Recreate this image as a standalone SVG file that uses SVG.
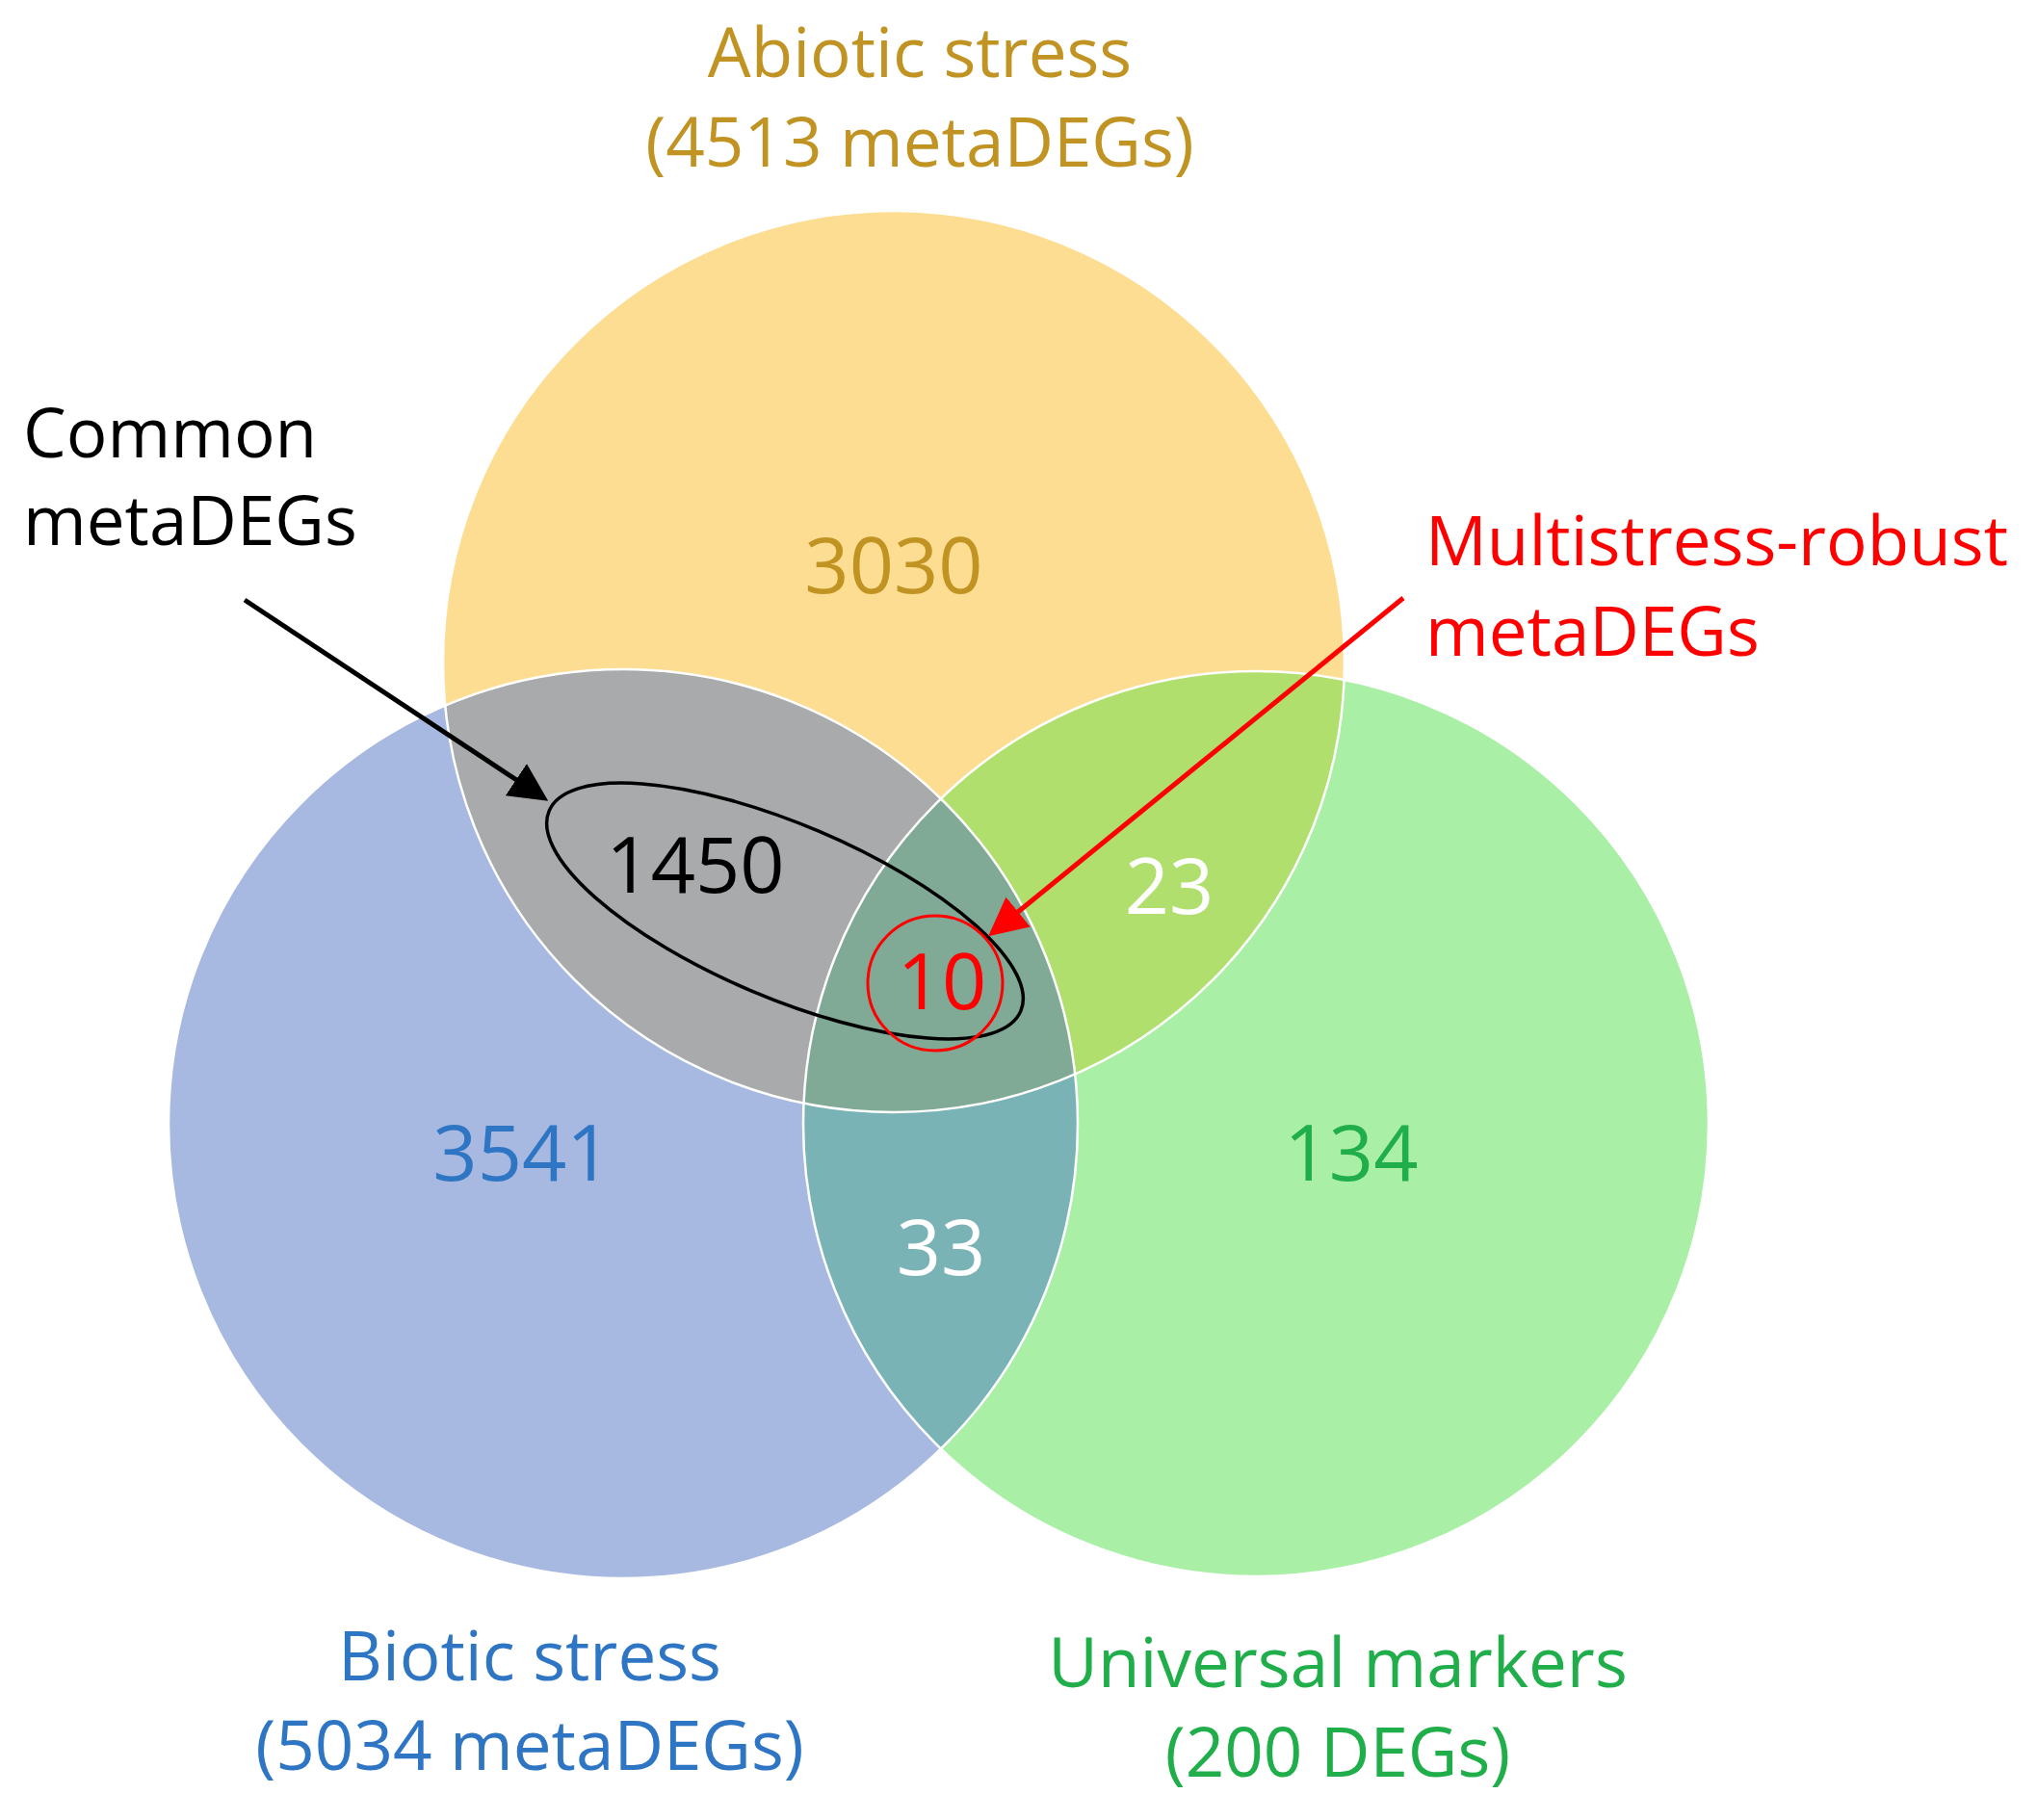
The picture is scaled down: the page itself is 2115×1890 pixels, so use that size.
<svg xmlns="http://www.w3.org/2000/svg" width="2115" height="1890" viewBox="0 0 2115 1890">
<style>
text{font-family:"Open Sans","Liberation Sans",sans-serif;text-anchor:middle}
.t{font-size:71px}
.n{font-size:81px}
.w{fill:#fff}
</style>
<defs>
<clipPath id="cA"><circle cx="928" cy="687" r="468"/></clipPath>
<clipPath id="cB"><circle cx="647" cy="1167" r="472"/></clipPath>
<clipPath id="cU"><circle cx="1304" cy="1167" r="470"/></clipPath>
<marker id="ak" markerWidth="8" markerHeight="8" refX="7" refY="4" orient="auto" markerUnits="strokeWidth"><path d="M0,0L8,4L0,8z" fill="#000"/></marker>
<marker id="ar" markerWidth="8" markerHeight="8" refX="7" refY="4" orient="auto" markerUnits="strokeWidth"><path d="M0,0L8,4L0,8z" fill="#f00"/></marker>
</defs>
<rect width="2115" height="1890" fill="#fff"/>
<g id="abiotic"><circle cx="928" cy="687" r="468" fill="#fcdd92"/></g>
<g id="biotic"><circle cx="647" cy="1167" r="472" fill="#a7b9e0"/></g>
<g id="universal"><circle cx="1304" cy="1167" r="470" fill="#a9efa6"/></g>
<g id="overlaps">
<g clip-path="url(#cA)"><circle cx="647" cy="1167" r="472" fill="#a8aaab"/><circle cx="1304" cy="1167" r="470" fill="#b0df6e"/></g>
<g clip-path="url(#cB)"><circle cx="1304" cy="1167" r="470" fill="#7ab3b5"/></g>
<g clip-path="url(#cA)"><g clip-path="url(#cB)"><circle cx="1304" cy="1167" r="470" fill="#80a996"/></g></g>
<g fill="none" stroke="#fff" stroke-width="2.5"><circle cx="928" cy="687" r="468"/><circle cx="647" cy="1167" r="472"/><circle cx="1304" cy="1167" r="470"/></g>
</g>
<g id="highlights">
<ellipse cx="815" cy="946" rx="266" ry="90" transform="rotate(23 815 946)" fill="none" stroke="#000" stroke-width="3.5"/>
<circle cx="971" cy="1021" r="70" fill="none" stroke="#f00" stroke-width="3"/>
</g>
<g id="connectors">
<line x1="254" y1="623" x2="565" y2="829" stroke="#000" stroke-width="5" marker-end="url(#ak)"/>
<line x1="1457" y1="621" x2="1030" y2="969" stroke="#f00" stroke-width="5" marker-end="url(#ar)"/>
</g>
<g id="labels">
<text class="t" x="955" y="80" fill="#c09322">Abiotic stress</text>
<text class="t" x="955" y="173" fill="#c09322">(4513 metaDEGs)</text>
<text class="t" x="550" y="1745" fill="#2e75c4">Biotic stress</text>
<text class="t" x="550" y="1838" fill="#2e75c4">(5034 metaDEGs)</text>
<text class="t" x="1389" y="1752" fill="#1fae4a">Universal markers</text>
<text class="t" x="1389" y="1845" fill="#1fae4a">(200 DEGs)</text>
<text class="t" x="24" y="475" style="text-anchor:start">Common</text>
<text class="t" x="24" y="566" style="text-anchor:start">metaDEGs</text>
<text class="t" x="1480" y="587" fill="#f00" style="text-anchor:start">Multistress-robust</text>
<text class="t" x="1480" y="681" fill="#f00" style="text-anchor:start">metaDEGs</text>
<text class="n" x="928" y="616" fill="#c09322">3030</text>
<text class="n" x="722" y="927">1450</text>
<text class="n" x="978" y="1048" fill="#f00">10</text>
<text class="n w" x="1214" y="949">23</text>
<text class="n" x="542" y="1226" fill="#2e75c4">3541</text>
<text class="n" x="1403" y="1226" fill="#1fae4a">134</text>
<text class="n w" x="977" y="1324">33</text>
</g>
</svg>
